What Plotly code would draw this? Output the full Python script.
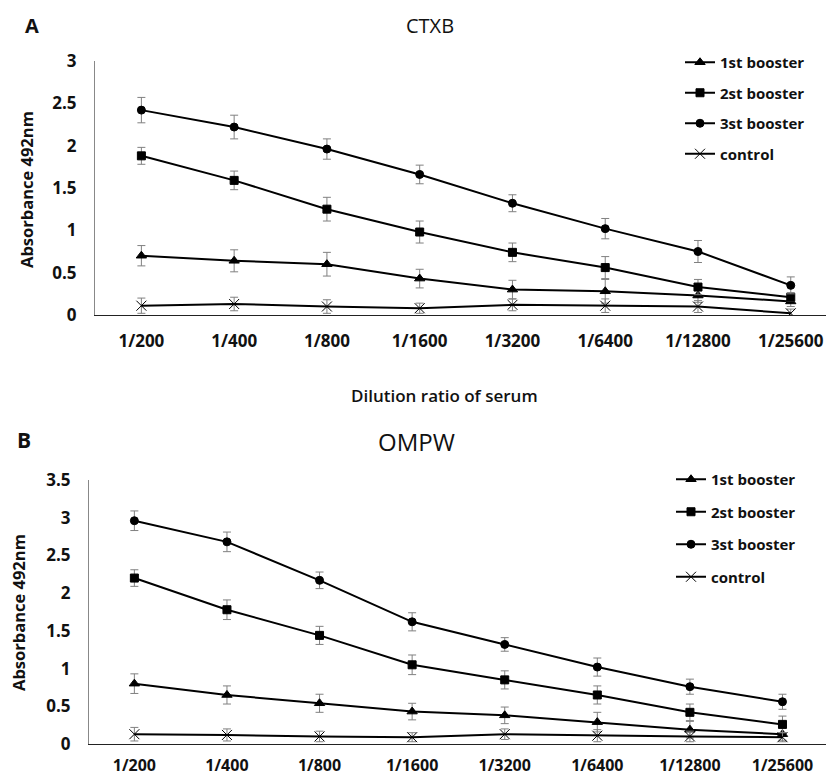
import plotly.graph_objects as go

categories = ["1/200", "1/400", "1/800", "1/1600", "1/3200", "1/6400", "1/12800", "1/25600"]
series_names = ["1st booster", "2st booster", "3st booster", "control"]

# Panel A: CTXB
ctxb_1st = [0.70, 0.64, 0.60, 0.43, 0.30, 0.28, 0.23, 0.16]
ctxb_1st_err = [0.12, 0.13, 0.14, 0.11, 0.11, 0.14, 0.08, 0.06]
ctxb_2nd = [1.88, 1.59, 1.25, 0.98, 0.74, 0.56, 0.33, 0.21]
ctxb_2nd_err = [0.10, 0.11, 0.14, 0.13, 0.11, 0.13, 0.09, 0.05]
ctxb_3rd = [2.42, 2.22, 1.96, 1.66, 1.32, 1.02, 0.75, 0.35]
ctxb_3rd_err = [0.15, 0.14, 0.12, 0.11, 0.10, 0.12, 0.13, 0.10]
ctxb_ctrl = [0.11, 0.13, 0.10, 0.08, 0.12, 0.11, 0.10, 0.02]
ctxb_ctrl_err = [0.09, 0.08, 0.08, 0.06, 0.07, 0.08, 0.07, 0.05]

# Panel B: OMPW
ompw_1st = [0.80, 0.65, 0.54, 0.43, 0.38, 0.29, 0.19, 0.13]
ompw_1st_err = [0.13, 0.12, 0.12, 0.11, 0.11, 0.13, 0.11, 0.08]
ompw_2nd = [2.20, 1.78, 1.44, 1.05, 0.85, 0.65, 0.42, 0.26]
ompw_2nd_err = [0.11, 0.13, 0.12, 0.13, 0.12, 0.12, 0.11, 0.11]
ompw_3rd = [2.96, 2.68, 2.17, 1.62, 1.32, 1.02, 0.76, 0.56]
ompw_3rd_err = [0.13, 0.13, 0.11, 0.12, 0.09, 0.12, 0.10, 0.10]
ompw_ctrl = [0.13, 0.12, 0.10, 0.09, 0.13, 0.11, 0.10, 0.09]
ompw_ctrl_err = [0.09, 0.08, 0.07, 0.06, 0.07, 0.08, 0.07, 0.06]

symbols = ["triangle-up", "square", "circle", "x-thin"]
sizes = [9, 8, 8, 10]

FONT = "Open Sans"
fig = go.Figure()

panels = [
    ([ctxb_1st, ctxb_2nd, ctxb_3rd, ctxb_ctrl],
     [ctxb_1st_err, ctxb_2nd_err, ctxb_3rd_err, ctxb_ctrl_err], "x", "y", "legend"),
    ([ompw_1st, ompw_2nd, ompw_3rd, ompw_ctrl],
     [ompw_1st_err, ompw_2nd_err, ompw_3rd_err, ompw_ctrl_err], "x2", "y2", "legend2"),
]

for vals, errs, xa, ya, lg in panels:
    for i, name in enumerate(series_names):
        fig.add_trace(go.Scatter(
            x=categories, y=vals[i], name=name, xaxis=xa, yaxis=ya, legend=lg,
            legendgroup=lg + str(i),
            mode="lines+markers",
            line=dict(color="black", width=2),
            marker=dict(symbol=symbols[i], size=sizes[i], color="black",
                        line=dict(color="black", width=1)),
            error_y=dict(type="data", array=errs[i], color="#808080",
                         thickness=1, width=4),
        ))

W, H = 826, 778
def py(p):
    return 1 - p / H

axis_common = dict(showgrid=False, zeroline=False, ticks="", automargin=False)
xtick_font = dict(family=FONT, size=17, color="#111", weight="bold")
xtick_font_b = dict(family=FONT, size=16, color="#111", weight="bold")
ytick_font = dict(family=FONT, size=17, color="#111", weight="bold")

fig.update_layout(
    width=W, height=H, margin=dict(l=0, r=0, t=0, b=0, autoexpand=False),
    paper_bgcolor="white", plot_bgcolor="white",
    showlegend=True,
    xaxis=dict(domain=[95 / W, 1], anchor="y", type="category",
               range=[-0.5, 7.38], showline=True, linecolor="#222", linewidth=1,
               ticklabelstandoff=11, tickfont=xtick_font, **axis_common),
    yaxis=dict(domain=[py(315), py(61)], anchor="x", range=[0, 3],
               tickvals=[0, 0.5, 1, 1.5, 2, 2.5, 3],
               ticktext=["0", "0.5", "1", "1.5", "2", "2.5", "3"],
               showline=True, linecolor="#888", linewidth=1,
               ticklabelstandoff=14, tickfont=ytick_font, **axis_common),
    xaxis2=dict(domain=[89 / W, 1], anchor="y2", type="category",
                range=[-0.49, 7.47], showline=True, linecolor="#222", linewidth=1,
                ticklabelstandoff=7, tickfont=xtick_font_b, **axis_common),
    yaxis2=dict(domain=[py(744), py(480)], anchor="x2", range=[0, 3.5],
                tickvals=[0, 0.5, 1, 1.5, 2, 2.5, 3, 3.5],
                ticktext=["0", "0.5", "1", "1.5", "2", "2.5", "3", "3.5"],
                showline=True, linecolor="#888", linewidth=1,
                ticklabelstandoff=14, tickfont=ytick_font, **axis_common),
    legend=dict(x=680 / W, y=py(46), xanchor="left", yanchor="top",
                bgcolor="rgba(0,0,0,0)", tracegroupgap=8,
                font=dict(family=FONT, size=15, color="#111", weight="bold")),
    legend2=dict(x=671 / W, y=py(463), xanchor="left", yanchor="top",
                 bgcolor="rgba(0,0,0,0)", tracegroupgap=10,
                 font=dict(family=FONT, size=15, color="#111", weight="bold")),
)

ann = [
    dict(text="A", x=32 / W, y=py(25), font=dict(size=20, weight="bold")),
    dict(text="CTXB", x=430 / W, y=py(25), font=dict(size=20)),
    dict(text="B", x=24 / W, y=py(440), font=dict(size=21, weight="bold")),
    dict(text="OMPW", x=416 / W, y=py(442), font=dict(size=24)),
    dict(text="Dilution ratio of serum", x=445 / W, y=py(395),
         font=dict(size=17, weight=600)),
    dict(text="Absorbance 492nm", x=27 / W, y=py(190), textangle=-90,
         font=dict(size=16.5, weight="bold")),
    dict(text="Absorbance 492nm", x=18 / W, y=py(613), textangle=-90,
         font=dict(size=16.5, weight="bold")),
]
for a in ann:
    a["font"].update(family=FONT, color="#111")
    fig.add_annotation(xref="paper", yref="paper", showarrow=False,
                       xanchor="center", yanchor="middle", **a)

fig.write_html("out.html")
